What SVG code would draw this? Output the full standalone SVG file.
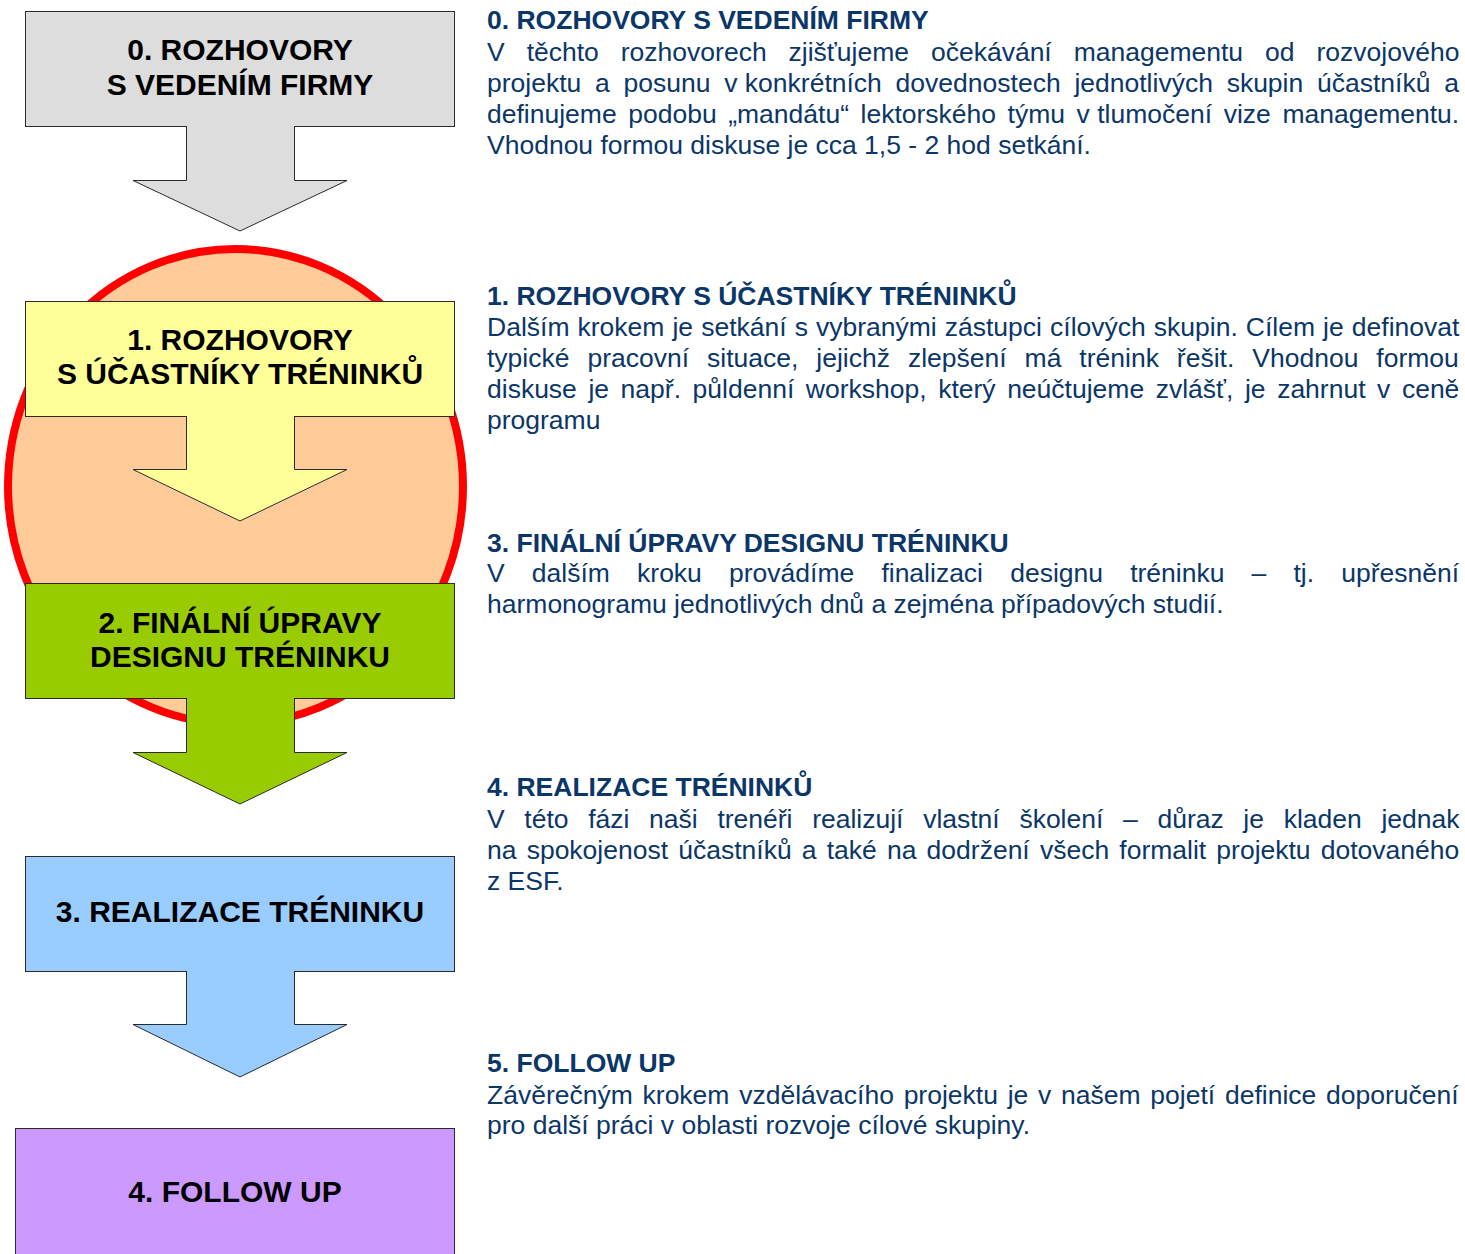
<svg xmlns="http://www.w3.org/2000/svg" width="1465" height="1254" viewBox="0 0 1465 1254">
  <style>
    .box { stroke: #2b2b2b; stroke-width: 1; }
    .arrow { stroke: #2b2b2b; stroke-width: 1; stroke-linejoin: miter; }
    .label { font-family: "Liberation Sans", Arial, sans-serif; font-weight: bold; font-size: 30px; fill: #000; text-anchor: middle; }
    .head { font-family: "Liberation Sans", Arial, sans-serif; font-weight: bold; font-size: 26.5px; fill: #0b3668; }
    .body { font-family: "Liberation Sans", Arial, sans-serif; font-size: 26.5px; fill: #0b3668; }
    .tight { word-spacing: 0; }
  </style>

  <rect width="1465" height="1254" fill="#ffffff"/>

  <!-- phase circle behind steps 1 and 2 -->
  <g id="phase-circle">
    <ellipse cx="235.5" cy="486.5" rx="227.5" ry="237.5" fill="#ffcc99" stroke="#ff0000" stroke-width="8"/>
  </g>

  <!-- step boxes -->
  <g id="step0">
    <rect class="box" x="25.5" y="11.5" width="429" height="115" fill="#dddddd"/>
    <text class="label" x="240" y="60">0. ROZHOVORY</text>
    <text class="label" x="240" y="95">S VEDENÍM FIRMY</text>
  </g>

  <g id="step1">
    <rect class="box" x="25.5" y="301.5" width="429" height="115" fill="#ffff99"/>
    <text class="label" x="240" y="350">1. ROZHOVORY</text>
    <text class="label" x="240" y="384">S ÚČASTNÍKY TRÉNINKŮ</text>
  </g>

  <g id="step2">
    <rect class="box" x="25.5" y="583.5" width="429" height="115" fill="#99cc00"/>
    <text class="label" x="240" y="633">2. FINÁLNÍ ÚPRAVY</text>
    <text class="label" x="240" y="667">DESIGNU TRÉNINKU</text>
  </g>

  <g id="step3">
    <rect class="box" x="25.5" y="856.5" width="429" height="115" fill="#99ccff"/>
    <text class="label" x="240" y="922">3. REALIZACE TRÉNINKU</text>
  </g>

  <g id="step4">
    <rect class="box" x="15.5" y="1128.5" width="439" height="140" fill="#cc99ff"/>
    <text class="label" x="235" y="1202">4. FOLLOW UP</text>
  </g>

  <!-- block arrows between steps (open at the top so they join the box) -->
  <g id="connectors">
    <path class="arrow" fill="#dddddd" d="M186.5,126 V180.5 H133 L240,231 L347,180.5 H294.5 V126"/>
    <path class="arrow" fill="#ffff99" d="M186.5,416 V469.5 H133 L240,521 L347,469.5 H294.5 V416"/>
    <path class="arrow" fill="#99cc00" d="M186.5,698 V752.5 H133 L240,804 L347,752.5 H294.5 V698"/>
    <path class="arrow" fill="#99ccff" d="M186.5,971 V1024.5 H133 L240,1077 L347,1024.5 H294.5 V971"/>
  </g>

  <!-- descriptions -->
  <g id="desc0">
    <text class="head" x="487" y="29">0. ROZHOVORY S VEDENÍM FIRMY</text>
    <text class="body" x="487" y="61" word-spacing="14.6">V těchto rozhovorech zjišťujeme očekávání managementu od rozvojového</text>
    <text class="body" x="487" y="92" word-spacing="6.4">projektu a posunu <tspan class="tight">v konkrétních</tspan> dovednostech jednotlivých skupin účastníků a</text>
    <text class="body" x="487" y="123" word-spacing="4.2">definujeme podobu „mandátu“ lektorského týmu <tspan class="tight">v tlumočení</tspan> vize managementu.</text>
    <text class="body" x="487" y="154">Vhodnou formou diskuse je cca 1,5 - 2 hod setkání.</text>
  </g>

  <g id="desc1">
    <text class="head" x="487" y="305">1. ROZHOVORY S ÚČASTNÍKY TRÉNINKŮ</text>
    <text class="body" x="487" y="336" word-spacing="0.7">Dalším krokem je setkání s vybranými zástupci cílových skupin. Cílem je definovat</text>
    <text class="body" x="487" y="367" word-spacing="10.6">typické pracovní situace, jejichž zlepšení má trénink řešit. Vhodnou formou</text>
    <text class="body" x="487" y="398" word-spacing="4.2">diskuse je např. půldenní workshop, který neúčtujeme zvlášť, je zahrnut v ceně</text>
    <text class="body" x="487" y="429">programu</text>
  </g>

  <g id="desc3">
    <text class="head" x="487" y="552">3. FINÁLNÍ ÚPRAVY DESIGNU TRÉNINKU</text>
    <text class="body" x="487" y="582" word-spacing="19.8">V dalším kroku provádíme finalizaci designu tréninku – tj. upřesnění</text>
    <text class="body" x="487" y="613">harmonogramu jednotlivých dnů a zejména případových studií.</text>
  </g>

  <g id="desc4">
    <text class="head" x="487" y="796">4. REALIZACE TRÉNINKŮ</text>
    <text class="body" x="487" y="828" word-spacing="12.3">V této fázi naši trenéři realizují vlastní školení – důraz je kladen jednak</text>
    <text class="body" x="487" y="859" word-spacing="2.8">na spokojenost účastníků a také na dodržení všech formalit projektu dotovaného</text>
    <text class="body" x="487" y="890">z ESF.</text>
  </g>

  <g id="desc5">
    <text class="head" x="487" y="1072">5. FOLLOW UP</text>
    <text class="body" x="487" y="1104" word-spacing="2.4">Závěrečným krokem vzdělávacího projektu je v našem pojetí definice doporučení</text>
    <text class="body" x="487" y="1134">pro další práci v oblasti rozvoje cílové skupiny.</text>
  </g>
</svg>
